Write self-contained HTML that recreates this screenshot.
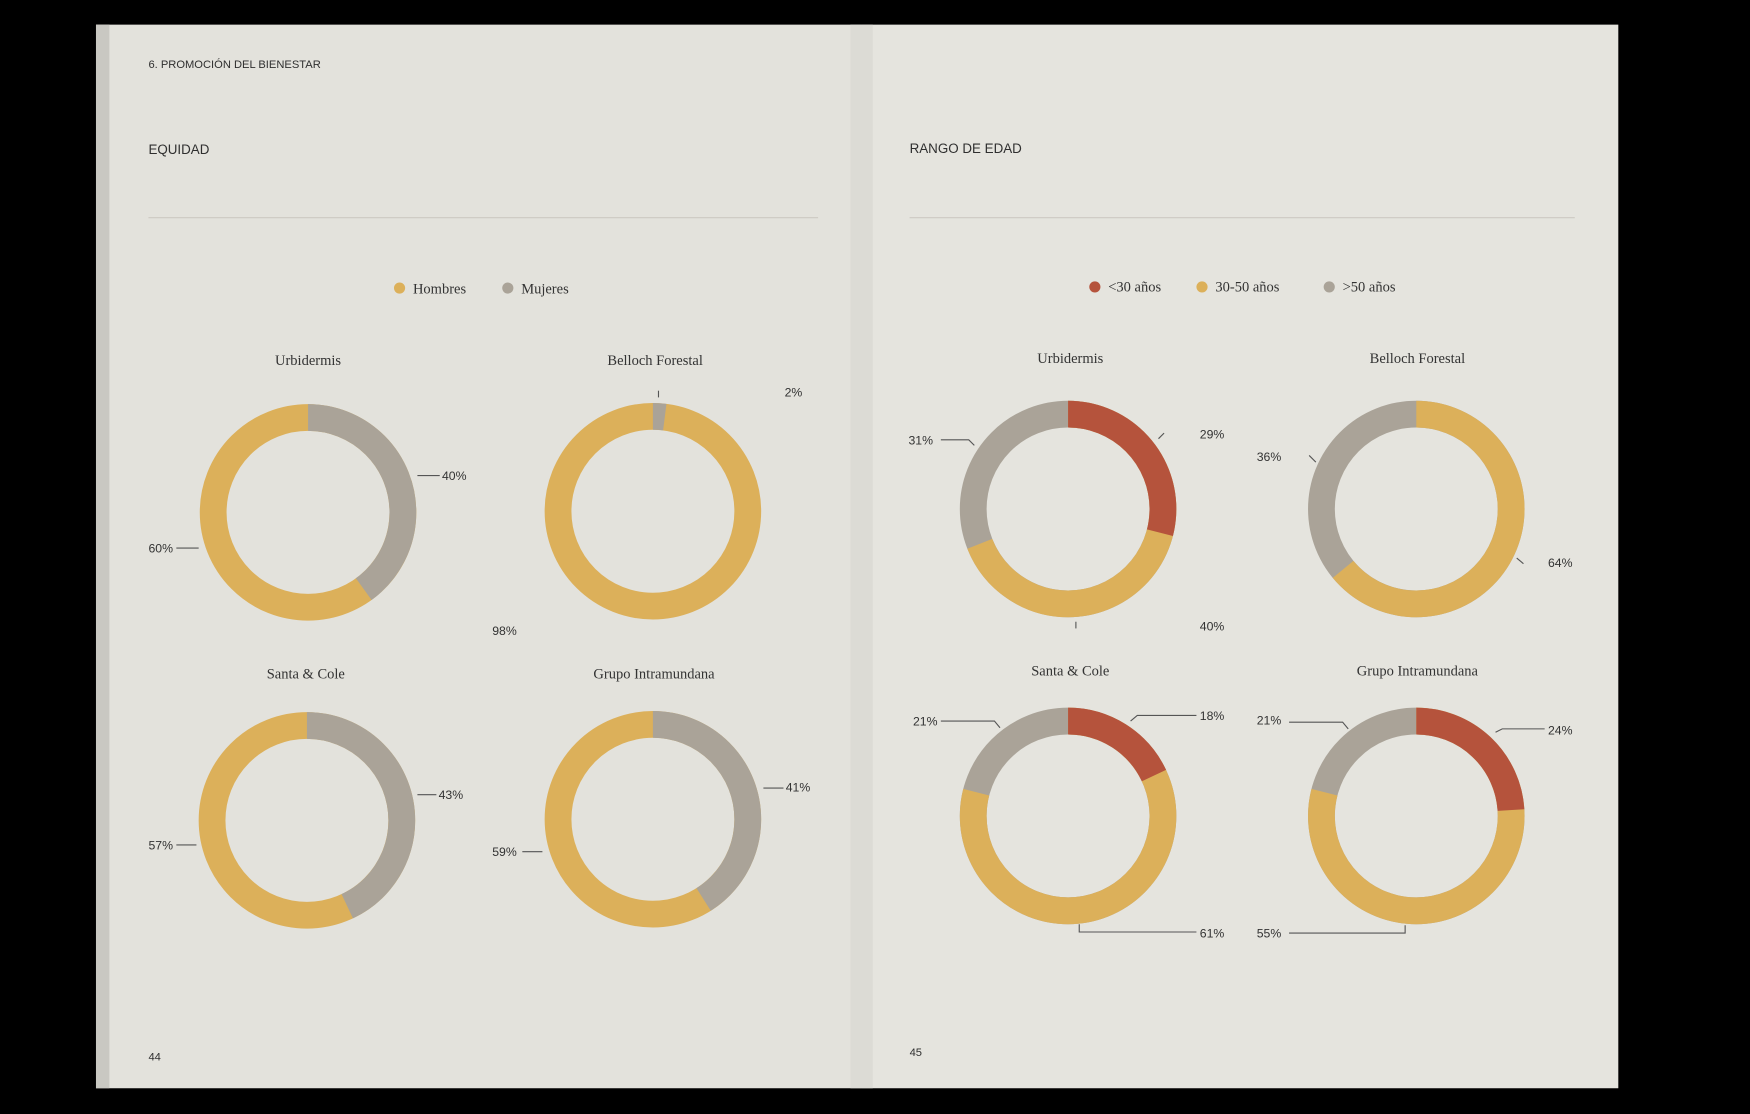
<!DOCTYPE html>
<html><head><meta charset="utf-8">
<style>
html,body{margin:0;padding:0;background:#000;}
svg{display:block}
.s{font-family:"Liberation Sans",sans-serif;fill:#2f2f2f}
.t{font-family:"Liberation Serif",serif;fill:#333;font-size:13px}
.l{font-family:"Liberation Sans",sans-serif;fill:#333;font-size:11px}
.ln{stroke:#555;stroke-width:1;fill:none}
</style></head><body>
<svg width="1750" height="1114" viewBox="0 0 1568 998" xmlns="http://www.w3.org/2000/svg">
<rect width="1568" height="998" fill="#000"/>
<rect x="86" y="22" width="686" height="953" fill="#e3e2dc"/>
<rect x="86" y="22" width="12" height="953" fill="#c9c8c2"/>
<rect x="772" y="22" width="678" height="953" fill="#e5e4de"/>
<rect x="762" y="22" width="20" height="953" fill="#dcdbd5"/>
<text x="133" y="61" class="s" font-size="10">6. PROMOCIÓN DEL BIENESTAR</text>
<text x="133" y="138" class="s" font-size="12">EQUIDAD</text>
<text x="815" y="137" class="s" font-size="12">RANGO DE EDAD</text>
<line x1="133" y1="195" x2="733" y2="195" stroke="#ccc9c2"/>
<line x1="815" y1="195" x2="1411" y2="195" stroke="#ccc9c2"/>
<text x="133" y="950" class="s" font-size="10">44</text>
<text x="815" y="946" class="s" font-size="10">45</text>
<!-- legends -->
<circle cx="358" cy="258" r="5" fill="#dcb05a"/><text x="370" y="263" class="t">Hombres</text>
<circle cx="455" cy="258" r="5" fill="#aaa398"/><text x="467" y="263" class="t">Mujeres</text>
<circle cx="981" cy="257" r="5" fill="#b5533c"/><text x="993" y="261" class="t">&lt;30 años</text>
<circle cx="1077" cy="257" r="5" fill="#dcb05a"/><text x="1089" y="261" class="t">30-50 años</text>
<circle cx="1191" cy="257" r="5" fill="#aaa398"/><text x="1203" y="261" class="t">&gt;50 años</text>
<!-- titles -->
<text x="276" y="327" class="t" text-anchor="middle">Urbidermis</text>
<text x="587" y="327" class="t" text-anchor="middle">Belloch Forestal</text>
<text x="274" y="608" class="t" text-anchor="middle">Santa &amp; Cole</text>
<text x="586" y="608" class="t" text-anchor="middle">Grupo Intramundana</text>
<text x="959" y="325" class="t" text-anchor="middle">Urbidermis</text>
<text x="1270" y="325" class="t" text-anchor="middle">Belloch Forestal</text>
<text x="959" y="605" class="t" text-anchor="middle">Santa &amp; Cole</text>
<text x="1270" y="605" class="t" text-anchor="middle">Grupo Intramundana</text>
<!-- donuts: C = 534.07 -->
<g fill="none" stroke-width="24">
<g transform="translate(276,459) rotate(-90)">
<circle r="85" stroke="#dcb05a"/><circle r="85" stroke="#aaa398" stroke-dasharray="213.6 600"/></g>
<g transform="translate(585,458) rotate(-90)">
<circle r="85" stroke="#dcb05a"/><circle r="85" stroke="#aaa398" stroke-dasharray="10.7 600"/></g>
<g transform="translate(275,735) rotate(-90)">
<circle r="85" stroke="#dcb05a"/><circle r="85" stroke="#aaa398" stroke-dasharray="229.6 600"/></g>
<g transform="translate(585,734) rotate(-90)">
<circle r="85" stroke="#dcb05a"/><circle r="85" stroke="#aaa398" stroke-dasharray="219 600"/></g>
<g transform="translate(957,456) rotate(-90)">
<circle r="85" stroke="#aaa398"/><circle r="85" stroke="#dcb05a" stroke-dasharray="368.5 600"/><circle r="85" stroke="#b5533c" stroke-dasharray="154.9 600"/></g>
<g transform="translate(1269,456) rotate(-90)">
<circle r="85" stroke="#aaa398"/><circle r="85" stroke="#dcb05a" stroke-dasharray="341.8 600"/></g>
<g transform="translate(957,731) rotate(-90)">
<circle r="85" stroke="#aaa398"/><circle r="85" stroke="#dcb05a" stroke-dasharray="421.9 600"/><circle r="85" stroke="#b5533c" stroke-dasharray="96.1 600"/></g>
<g transform="translate(1269,731) rotate(-90)">
<circle r="85" stroke="#aaa398"/><circle r="85" stroke="#dcb05a" stroke-dasharray="421.9 600"/><circle r="85" stroke="#b5533c" stroke-dasharray="128.2 600"/></g>
</g>
<!-- labels -->
<line x1="374" y1="426" x2="394" y2="426" class="ln"/><text x="396" y="430" class="l">40%</text>
<line x1="158" y1="491" x2="178" y2="491" class="ln"/><text x="133" y="495" class="l">60%</text>
<line x1="590" y1="350" x2="590" y2="356" class="ln"/><text x="703" y="355" class="l">2%</text>
<text x="441" y="569" class="l">98%</text>
<line x1="374" y1="712" x2="391" y2="712" class="ln"/><text x="393" y="716" class="l">43%</text>
<line x1="158" y1="757" x2="176" y2="757" class="ln"/><text x="133" y="761" class="l">57%</text>
<line x1="684" y1="706" x2="702" y2="706" class="ln"/><text x="704" y="709" class="l">41%</text>
<line x1="468" y1="763" x2="486" y2="763" class="ln"/><text x="441" y="767" class="l">59%</text>
<polyline points="843,394 868,394 873,399" class="ln"/><text x="814" y="398" class="l">31%</text>
<line x1="1038" y1="393" x2="1043" y2="388" class="ln"/><text x="1075" y="393" class="l">29%</text>
<line x1="964" y1="557" x2="964" y2="563" class="ln"/><text x="1075" y="565" class="l">40%</text>
<line x1="1173" y1="408" x2="1179" y2="414" class="ln"/><text x="1126" y="413" class="l">36%</text>
<line x1="1359" y1="500" x2="1365" y2="505" class="ln"/><text x="1387" y="508" class="l">64%</text>
<polyline points="843,646 891,646 896,652" class="ln"/><text x="818" y="650" class="l">21%</text>
<polyline points="1013,646 1019,641 1072,641" class="ln"/><text x="1075" y="645" class="l">18%</text>
<polyline points="967,828 967,835 1072,835" class="ln"/><text x="1075" y="840" class="l">61%</text>
<polyline points="1155,647 1203,647 1208,653" class="ln"/><text x="1126" y="649" class="l">21%</text>
<polyline points="1340,656 1346,653 1384,653" class="ln"/><text x="1387" y="658" class="l">24%</text>
<polyline points="1155,836 1259,836 1259,829" class="ln"/><text x="1126" y="840" class="l">55%</text>
</svg>
</body></html>
